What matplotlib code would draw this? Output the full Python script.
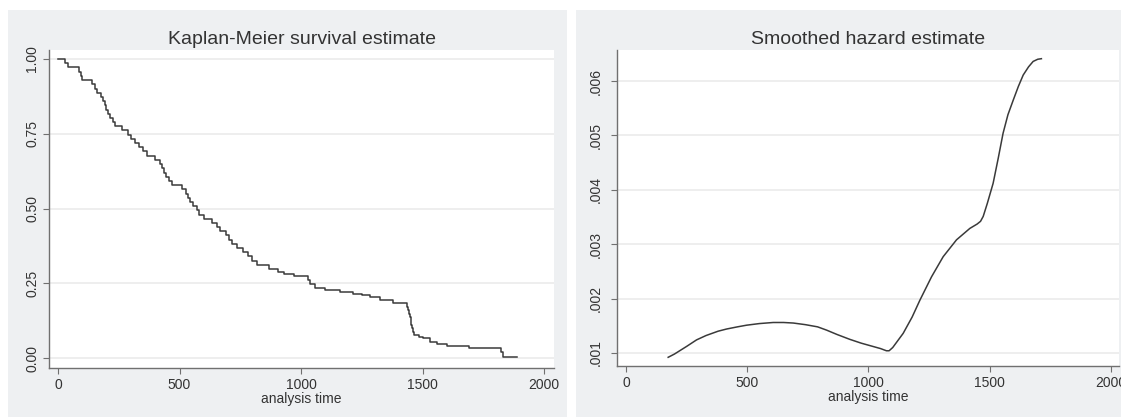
import matplotlib
matplotlib.use('Agg')
import matplotlib.pyplot as plt
from matplotlib.patches import Rectangle

plt.rcParams['font.family'] = ['Liberation Sans', 'DejaVu Sans']

# Kaplan-Meier step points (time, survival after the step)
km_time = [0, 29, 42, 88, 93, 97, 139, 152, 160, 175, 186, 193, 198, 205,
           215, 228, 235, 262, 290, 300, 318, 335, 350, 368, 400, 420, 430,
           438, 445, 455, 470, 510, 525, 535, 545, 555, 570, 582, 600, 635,
           655, 668, 690, 705, 718, 735, 760, 782, 800, 820, 870, 905, 930,
           970, 1030, 1037, 1058, 1099, 1160, 1215, 1250, 1284, 1325, 1380,
           1437, 1441, 1445, 1448, 1451, 1454, 1458, 1462, 1466, 1485, 1504,
           1531, 1560, 1599, 1690, 1822, 1832, 1888]
km_surv = [1.000, 0.986, 0.972, 0.958, 0.944, 0.929, 0.915, 0.901, 0.887,
           0.873, 0.859, 0.845, 0.831, 0.817, 0.803, 0.789, 0.775, 0.761,
           0.747, 0.733, 0.719, 0.705, 0.691, 0.677, 0.663, 0.649, 0.634,
           0.620, 0.606, 0.592, 0.578, 0.564, 0.550, 0.536, 0.522, 0.508,
           0.494, 0.480, 0.466, 0.452, 0.438, 0.424, 0.410, 0.396, 0.382,
           0.368, 0.354, 0.340, 0.326, 0.312, 0.298, 0.288, 0.281, 0.274,
           0.260, 0.247, 0.236, 0.227, 0.221, 0.214, 0.210, 0.205, 0.194,
           0.183, 0.172, 0.160, 0.148, 0.136, 0.124, 0.112, 0.100, 0.088,
           0.078, 0.071, 0.066, 0.055, 0.047, 0.040, 0.033, 0.020, 0.005,
           0.005]

# smoothed hazard curve
hz_time = [174, 200, 250, 291, 330, 380, 415, 460, 497, 550, 607, 650, 690,
           740, 790, 827, 870, 923, 970, 1010, 1050, 1074, 1085, 1100, 1143,
           1180, 1212, 1260, 1308, 1363, 1418, 1448, 1462, 1473, 1490, 1514,
           1535, 1555, 1575, 1597, 1618, 1638, 1660, 1679, 1698, 1713]
hz_rate = [0.00092, 0.00098, 0.00112, 0.00124, 0.00132, 0.00140, 0.00144,
           0.00148, 0.00151, 0.00154, 0.00156, 0.00156, 0.00155, 0.00152,
           0.00148, 0.00142, 0.00134, 0.00125, 0.00118, 0.00113, 0.00108,
           0.00104, 0.00104, 0.00110, 0.00136, 0.00166, 0.00197, 0.00240,
           0.00277, 0.00308, 0.00329, 0.00337, 0.00342, 0.00351, 0.00375,
           0.00412, 0.00458, 0.00504, 0.00538, 0.00565, 0.00590, 0.00611,
           0.00626, 0.00636, 0.00640, 0.00641]

x_ticks = [0, 500, 1000, 1500, 2000]
km_yticks = [0.0, 0.25, 0.5, 0.75, 1.0]
km_ylabels = ['0.00', '0.25', '0.50', '0.75', '1.00']
hz_yticks = [0.001, 0.002, 0.003, 0.004, 0.005, 0.006]
hz_ylabels = ['.001', '.002', '.003', '.004', '.005', '.006']

W, H = 1121, 417
panel_bg = '#eef0f2'
line_col = '#3a3a3a'
text_col = '#333333'
axis_col = '#707070'


def px_box(x0, y0, x1, y1):
    # pixel box (top-left origin) -> figure fraction [l, b, w, h]
    return [x0 / W, 1 - y1 / H, (x1 - x0) / W, (y1 - y0) / H]


def style_axes(ax, title, yticks, ylabels, ypad):
    ax.set_facecolor('white')
    for s in ['top', 'right']:
        ax.spines[s].set_visible(False)
    for s in ['left', 'bottom']:
        ax.spines[s].set_color(axis_col)
        ax.spines[s].set_linewidth(1.0)
    ax.set_xticks(x_ticks)
    ax.set_yticks(yticks)
    ax.set_yticklabels(ylabels, rotation=90, va='center')
    ax.tick_params(axis='both', direction='out', length=4, width=0.8,
                   color=axis_col, labelcolor=text_col, labelsize=10)
    ax.tick_params(axis='x', pad=3)
    ax.tick_params(axis='y', pad=ypad)
    ax.grid(axis='y', color='#ebebeb', linewidth=1.2)
    ax.set_axisbelow(True)
    ax.set_xlabel('analysis time', fontsize=10, color=text_col, labelpad=0)
    ax.set_title(title, fontsize=14, color=text_col, pad=4)


fig = plt.figure(figsize=(W / 100, H / 100), dpi=100)
fig.patch.set_facecolor('white')

# grey panel backgrounds
for x0, x1 in [(8, 567), (576, 1121)]:
    l, b, w, h = px_box(x0, 10, x1, H)
    fig.add_artist(Rectangle((l, b), w, h, transform=fig.transFigure,
                             facecolor=panel_bg, edgecolor='none', zorder=-1))

ax1 = fig.add_axes(px_box(49, 50, 554, 368))
ax1.step(km_time, km_surv, where='post', color=line_col, linewidth=1.1)
ax1.set_xlim(-37, 2041)
ax1.set_ylim(-0.033, 1.03)
style_axes(ax1, 'Kaplan-Meier survival estimate', km_yticks, km_ylabels, 3)

ax2 = fig.add_axes(px_box(617, 50, 1119, 366))
ax2.plot(hz_time, hz_rate, color=line_col, linewidth=1.1)
ax2.set_xlim(-37, 2033)
ax2.set_ylim(0.00076, 0.00657)
style_axes(ax2, 'Smoothed hazard estimate', hz_yticks, hz_ylabels, 6)

fig.savefig('out.png', dpi=100)
